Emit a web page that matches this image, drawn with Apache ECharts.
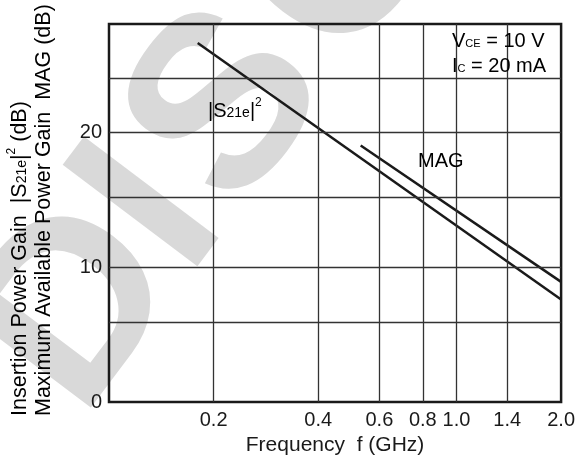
<!DOCTYPE html>
<html>
<head>
<meta charset="utf-8">
<script src="https://cdn.jsdelivr.net/npm/echarts@6/dist/echarts.min.js"></script>
<style>
  html, body { margin: 0; padding: 0; background: #fff; }
  #main { width: 578px; height: 474px; }
</style>
</head>
<body>
<div id="main"></div>
<script>
// frequency (GHz) / gain (dB), both curves are straight on the log axis
var s21Freq = [0.18, 2.0];
var s21Gain = [26.6, 7.6];
var magFreq = [0.53, 2.0];
var magGain = [19.0, 8.9];

var xTicks = [0.2, 0.4, 0.6, 0.8, 1.0, 1.4, 2.0];
var yGridLines = [5.9, 10, 15.2, 20, 24];

var FONT = '"Liberation Sans", Arial, Helvetica, sans-serif';
var INK = '#1a1a1a';

function pairs(xs, ys) {
    var out = [];
    for (var i = 0; i < xs.length; i++) out.push([xs[i], ys[i]]);
    return out;
}

var gridMarks = [];
for (var i = 0; i < xTicks.length - 1; i++) gridMarks.push({ xAxis: xTicks[i] });
for (var j = 0; j < yGridLines.length; j++) gridMarks.push({ yAxis: yGridLines[j] });

// rich styles: 28px line box, small text kept on the baseline of the big text
function richStyles(size) {
    var base = 14 + 0.3465 * size;
    function boxH(f) { return Math.round(2 * (28 - (base - 0.3465 * f))); }
    return {
        n: { fontFamily: FONT, fontSize: size, lineHeight: 28, color: INK },
        sub: { fontFamily: FONT, fontSize: 14, height: boxH(14), verticalAlign: 'bottom', color: INK },
        sm: { fontFamily: FONT, fontSize: 11, height: boxH(11), verticalAlign: 'bottom', color: INK },
        sup: { fontFamily: FONT, fontSize: 12, height: 12, verticalAlign: 'top', color: INK }
    };
}

function label(x, y, text, size, rot) {
    return {
        type: 'text', x: x, y: y, rotation: rot || 0, z: 10, silent: true,
        style: { text: text, rich: richStyles(size), align: 'left', verticalAlign: 'top' }
    };
}

// "DISCO" stamp in the background, one glyph at a time along a tilted baseline
function stamp() {
    var ang = 53 * Math.PI / 180;
    var bx = Math.cos(ang), by = -Math.sin(ang);
    var ux = -Math.sin(ang), uy = -Math.cos(ang);
    var letters = ['D', 'I', 'S', 'C', 'O'];
    var offs = [0, 177, 257, 438, 615];
    var out = [];
    for (var k = 0; k < letters.length; k++) {
        out.push({
            type: 'text', z: -5, silent: true, rotation: ang,
            x: 95 + offs[k] * bx + 85 * ux,
            y: 431 + offs[k] * by + 85 * uy,
            style: {
                text: letters[k], font: 'bold 245px ' + FONT, fill: '#d9d9d9',
                align: 'left', verticalAlign: 'middle'
            }
        });
    }
    return out;
}

var chart = echarts.init(document.getElementById('main'));
chart.setOption({
    animation: false,
    backgroundColor: '#fff',
    grid: {
        left: 109, right: 15, top: 24, bottom: 72,
        show: true, borderColor: INK, borderWidth: 2.5
    },
    xAxis: {
        type: 'log', logBase: 10, min: 0.1, max: 2.0,
        axisLine: { show: false }, axisTick: { show: false },
        splitLine: { show: false }, minorSplitLine: { show: false },
        axisLabel: {
            customValues: xTicks, margin: 8,
            fontFamily: FONT, fontSize: 20, color: INK,
            formatter: function (v) { return Number(v).toFixed(1); }
        },
        name: 'Frequency  f (GHz)', nameLocation: 'middle', nameGap: 32,
        nameTextStyle: { fontFamily: FONT, fontSize: 21, color: INK }
    },
    yAxis: {
        type: 'value', min: 0, max: 28, interval: 10,
        axisLine: { show: false }, axisTick: { show: false },
        splitLine: { show: false },
        axisLabel: {
            margin: 7, fontFamily: FONT, fontSize: 20, color: INK, showMaxLabel: false,
            formatter: function (v) { return v % 10 === 0 ? String(v) : ''; }
        }
    },
    graphic: stamp().concat([
        label(6, 416, '{n|Insertion Power Gain  |S}{sub|21e}{n||}{sup|2}{n| (dB)}', 21.5, Math.PI / 2),
        label(30, 416, '{n|Maximum Available Power Gain  MAG (dB)}', 21.5, Math.PI / 2),
        label(208, 97, '{n||S}{sub|21e}{n||}{sup|2}', 20),
        label(418, 147, '{n|MAG}', 20),
        label(452, 27, '{n|V}{sm|CE}{n| = 10 V}', 20),
        label(452, 52, '{n|I}{sm|C}{n| = 20 mA}', 20)
    ]),
    series: [
        {
            type: 'line', data: [], z: 1, silent: true,
            markLine: {
                silent: true, symbol: 'none', animation: false,
                label: { show: false },
                lineStyle: { color: '#333', width: 1.3, type: 'solid' },
                data: gridMarks
            }
        },
        {
            name: '|S21e|2', type: 'line', data: pairs(s21Freq, s21Gain),
            showSymbol: false, z: 3,
            lineStyle: { color: INK, width: 2.5 }
        },
        {
            name: 'MAG', type: 'line', data: pairs(magFreq, magGain),
            showSymbol: false, z: 3,
            lineStyle: { color: INK, width: 2.5 }
        }
    ]
});
</script>
</body>
</html>
